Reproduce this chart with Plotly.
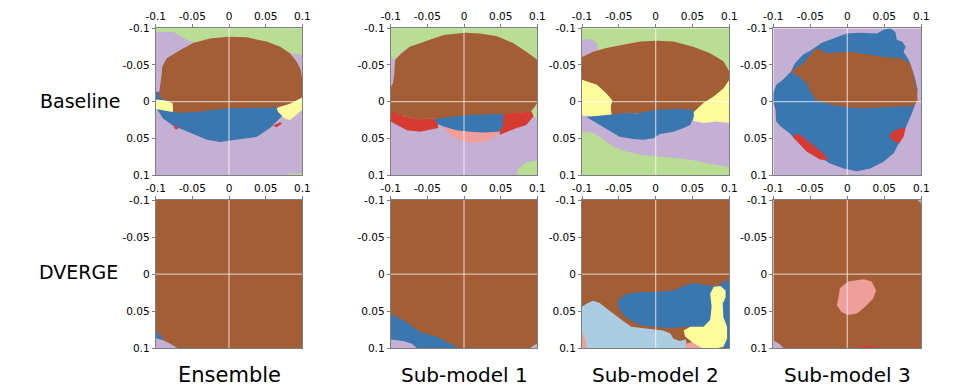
import plotly.graph_objects as go

# ---------------- data ----------------
TICKS = [-0.1, -0.05, 0, 0.05, 0.1]
TICK_TEXT = ['-0.1', '-0.05', '0', '0.05', '0.1']
ROW_LABELS = ['Baseline', 'DVERGE']
COL_LABELS = ['Ensemble', 'Sub-model 1', 'Sub-model 2', 'Sub-model 3']

FULL = [(-0.1, -0.1), (0.1, -0.1), (0.1, 0.1), (-0.1, 0.1)]

# Baseline / Ensemble
B_ENS_GREEN = [(-0.1, -0.1), (0.1, -0.1), (0.1, -0.064), (0.083, -0.066), (0.001, -0.075),
               (-0.053, -0.082), (-0.076, -0.095), (-0.1, -0.095)]
B_ENS_GREEN2 = [(0.079, 0.1), (0.083, 0.098), (0.1, 0.098), (0.1, 0.1)]
B_ENS_BLUE = [(-0.1, -0.0136), (0.065, -0.0136), (0.067, 0.011), (0.074, 0.018), (0.065, 0.027),
              (0.056, 0.036), (0.038, 0.048), (0.010, 0.052), (-0.012, 0.055), (-0.030, 0.052),
              (-0.053, 0.043), (-0.076, 0.033), (-0.090, 0.023), (-0.096, 0.014), (-0.1, 0.007)]
B_ENS_YEL1 = [(-0.1, -0.003), (-0.078, -0.001), (-0.075, 0.007), (-0.077, 0.014), (-0.094, 0.011),
              (-0.1, 0.010)]
B_ENS_YEL2 = [(0.065, 0.009), (0.083, 0.003), (0.1, -0.006), (0.1, 0.011), (0.092, 0.018),
              (0.083, 0.025), (0.076, 0.023), (0.067, 0.014)]
B_ENS_RED1 = [(-0.076, 0.034), (-0.069, 0.034), (-0.070, 0.038), (-0.074, 0.037)]
B_ENS_RED2 = [(0.060, 0.033), (0.070, 0.028), (0.072, 0.030), (0.065, 0.035)]
B_ENS_BROWN = [(-0.001, -0.0886), (0.024, -0.0877), (0.051, -0.082), (0.070, -0.075), (0.083, -0.066),
               (0.092, -0.055), (0.098, -0.043), (0.1, -0.030), (0.1, -0.006), (0.083, 0.003),
               (0.065, 0.008), (0.038, 0.008), (0.001, 0.009), (-0.021, 0.011), (-0.044, 0.014),
               (-0.067, 0.015), (-0.076, 0.014), (-0.077, 0.002), (-0.087, -0.002), (-0.096, -0.007),
               (-0.094, -0.020), (-0.092, -0.036), (-0.091, -0.048), (-0.085, -0.059), (-0.067, -0.070),
               (-0.049, -0.080), (-0.026, -0.086)]

# Baseline / Sub-model 1
B_S1_GREEN = [(-0.1, -0.1), (0.1, -0.1), (0.1, -0.0545), (0.09, -0.061), (0.008, -0.075),
              (-0.074, -0.075), (-0.087, -0.066), (-0.094, -0.057), (-0.1, -0.062)]
B_S1_GREEN2 = [(0.095, 0.009), (0.1, 0.002), (0.1, 0.024), (0.095, 0.020), (0.092, 0.015)]
B_S1_GREEN3 = [(0.072, 0.1), (0.074, 0.091), (0.085, 0.083), (0.1, 0.080), (0.1, 0.1)]
B_S1_BROWN = [(0.001, -0.094), (0.022, -0.093), (0.045, -0.089), (0.067, -0.080), (0.085, -0.068),
              (0.1, -0.057), (0.1, 0.002), (0.095, 0.009), (0.090, 0.014), (0.072, 0.015),
              (0.054, 0.017), (0.008, 0.018), (-0.037, 0.023), (-0.060, 0.024), (-0.083, 0.020),
              (-0.1, 0.012), (-0.1, -0.020), (-0.097, -0.025), (-0.095, -0.039), (-0.094, -0.057),
              (-0.085, -0.066), (-0.074, -0.075), (-0.055, -0.082), (-0.028, -0.091)]
B_S1_RED1 = [(-0.1, 0.011), (-0.083, 0.020), (-0.060, 0.024), (-0.037, 0.023), (-0.035, 0.036),
             (-0.060, 0.041), (-0.078, 0.039), (-0.092, 0.032), (-0.1, 0.027)]
B_S1_RED2 = [(0.051, 0.016), (0.072, 0.015), (0.092, 0.013), (0.095, 0.020), (0.085, 0.032),
             (0.072, 0.036), (0.049, 0.045), (0.047, 0.034)]
B_S1_PINK = [(-0.028, 0.034), (0.049, 0.041), (0.040, 0.050), (0.026, 0.055), (0.008, 0.056),
             (-0.010, 0.051), (-0.024, 0.041)]
B_S1_BLUE = [(-0.040, 0.023), (-0.024, 0.014), (-0.005, 0.007), (0.008, 0.006), (0.026, 0.008),
             (0.047, 0.011), (0.054, 0.018), (0.053, 0.034), (0.047, 0.041), (0.026, 0.042),
             (0.008, 0.041), (-0.010, 0.039), (-0.028, 0.034), (-0.037, 0.030)]

# Baseline / Sub-model 2
B_S2_LAV1 = [(-0.1, -0.085), (-0.087, -0.085), (-0.080, -0.080), (-0.078, -0.070), (-0.1, -0.061)]
B_S2_LAV2 = [(-0.1, 0.018), (0.1, 0.018), (0.1, 0.089), (0.074, 0.085), (0.051, 0.080), (0.029, 0.077),
             (0.006, 0.075), (-0.017, 0.073), (-0.040, 0.068), (-0.058, 0.061), (-0.071, 0.052),
             (-0.080, 0.045), (-0.087, 0.042), (-0.1, 0.041)]
B_S2_BROWN = [(0.001, -0.083), (0.024, -0.082), (0.051, -0.075), (0.074, -0.066), (0.092, -0.055),
              (0.1, -0.041), (0.1, -0.027), (0.092, -0.018), (0.079, -0.007), (0.065, 0.002),
              (0.052, 0.014), (0.029, 0.010), (0.001, 0.013), (-0.026, 0.016), (-0.035, 0.015),
              (-0.049, 0.018), (-0.060, 0.019), (-0.061, 0.007), (-0.059, -0.002), (-0.067, -0.011),
              (-0.080, -0.023), (-0.1, -0.029), (-0.1, -0.061), (-0.085, -0.068), (-0.067, -0.073),
              (-0.044, -0.077), (-0.021, -0.082)]
B_S2_YEL1 = [(-0.1, -0.030), (-0.080, -0.023), (-0.067, -0.011), (-0.059, -0.002), (-0.061, 0.007),
             (-0.060, 0.019), (-0.085, 0.020), (-0.1, 0.019)]
B_S2_YEL2 = [(0.1, -0.030), (0.1, 0.029), (0.083, 0.027), (0.065, 0.029), (0.051, 0.026),
             (0.052, 0.014), (0.065, 0.002), (0.079, -0.007), (0.092, -0.018)]
B_S2_BLUE = [(-0.094, 0.021), (-0.062, 0.018), (-0.035, 0.015), (-0.026, 0.016), (0.001, 0.011),
             (0.029, 0.010), (0.051, 0.011), (0.052, 0.020), (0.047, 0.032), (0.038, 0.036),
             (0.024, 0.041), (0.006, 0.044), (-0.003, 0.050), (-0.017, 0.052), (-0.030, 0.051),
             (-0.049, 0.048), (-0.062, 0.040), (-0.080, 0.029)]

# Baseline / Sub-model 3
B_S3_BLUE = [(-0.1, -0.011), (-0.096, -0.023), (-0.087, -0.030), (-0.076, -0.041), (-0.071, -0.052),
             (-0.060, -0.064), (-0.049, -0.070), (-0.035, -0.080), (-0.019, -0.086), (-0.001, -0.093),
             (0.017, -0.094), (0.040, -0.093), (0.049, -0.098), (0.058, -0.1), (0.065, -0.095),
             (0.067, -0.084), (0.074, -0.082), (0.079, -0.075), (0.076, -0.068), (0.083, -0.057),
             (0.088, -0.043), (0.092, -0.030), (0.095, -0.016), (0.093, 0.0), (0.088, 0.014),
             (0.081, 0.030), (0.072, 0.052), (0.063, 0.070), (0.049, 0.082), (0.031, 0.091),
             (0.013, 0.095), (-0.005, 0.091), (-0.024, 0.084), (-0.046, 0.070), (-0.065, 0.057),
             (-0.078, 0.043), (-0.090, 0.034), (-0.096, 0.027), (-0.097, 0.011), (-0.1, 0.0)]
B_S3_BROWN = [(-0.076, -0.041), (-0.060, -0.052), (-0.042, -0.073), (-0.028, -0.066), (0.004, -0.068),
              (0.026, -0.065), (0.049, -0.061), (0.072, -0.059), (0.085, -0.052), (0.090, -0.034),
              (0.094, -0.016), (0.095, -0.002), (0.090, 0.006), (0.063, 0.007), (0.022, 0.009),
              (0.004, 0.008), (-0.019, 0.005), (-0.042, -0.002), (-0.051, -0.016), (-0.055, -0.025),
              (-0.065, -0.034)]
B_S3_RED1 = [(-0.074, 0.048), (-0.067, 0.043), (-0.058, 0.050), (-0.046, 0.059), (-0.033, 0.070),
             (-0.026, 0.080), (-0.037, 0.079), (-0.055, 0.068), (-0.064, 0.059)]
B_S3_RED2 = [(0.058, 0.043), (0.067, 0.038), (0.079, 0.035), (0.076, 0.048), (0.070, 0.057),
             (0.065, 0.055), (0.058, 0.050)]

# DVERGE / Ensemble
D_ENS_BLUE = [(-0.1, 0.0766), (-0.094, 0.082), (-0.089, 0.089), (-0.1, 0.089)]
D_ENS_LAV = [(-0.1, 0.086), (-0.090, 0.089), (-0.080, 0.094), (-0.070, 0.1), (-0.1, 0.1)]

# DVERGE / Sub-model 1
D_S1_BLUE = [(-0.1, 0.052), (-0.092, 0.058), (-0.083, 0.062), (-0.074, 0.068), (-0.060, 0.078),
             (-0.046, 0.082), (-0.035, 0.085), (-0.019, 0.094), (-0.006, 0.1), (-0.1, 0.1)]
D_S1_LAV1 = [(-0.1, 0.088), (-0.083, 0.090), (-0.071, 0.094), (-0.064, 0.1), (-0.1, 0.1)]
D_S1_LAV2 = [(0.090, 0.1), (0.095, 0.096), (0.1, 0.094), (0.1, 0.1)]

# DVERGE / Sub-model 2
D_S2_LBLUE = [(-0.1, 0.044), (-0.094, 0.040), (-0.085, 0.036), (-0.076, 0.039), (-0.067, 0.046),
              (-0.058, 0.053), (-0.046, 0.062), (-0.033, 0.071), (-0.012, 0.073), (0.010, 0.076),
              (0.020, 0.080), (0.024, 0.087), (0.033, 0.090), (0.041, 0.088), (0.043, 0.1), (-0.1, 0.1)]
D_S2_PINK1 = [(-0.1, 0.078), (-0.096, 0.087), (-0.093, 0.1), (-0.1, 0.1)]
D_S2_PINK2 = [(0.041, 0.094), (0.051, 0.091), (0.063, 0.1), (0.040, 0.1)]
D_S2_BLUE = [(-0.049, 0.033), (-0.040, 0.027), (-0.021, 0.024), (0.001, 0.024), (0.024, 0.022),
             (0.038, 0.016), (0.051, 0.012), (0.070, 0.015), (0.083, 0.016), (0.1, 0.007),
             (0.1, 0.1), (0.093, 0.1), (0.083, 0.076), (0.065, 0.071), (0.042, 0.071), (0.020, 0.073),
             (-0.003, 0.071), (-0.021, 0.069), (-0.035, 0.062), (-0.044, 0.055), (-0.050, 0.046),
             (-0.052, 0.040)]
D_S2_YEL = [(0.038, 0.076), (0.047, 0.071), (0.065, 0.071), (0.074, 0.062), (0.076, 0.044),
            (0.074, 0.026), (0.079, 0.017), (0.088, 0.016), (0.095, 0.022), (0.095, 0.031),
            (0.091, 0.040), (0.092, 0.058), (0.097, 0.071), (0.097, 0.087), (0.092, 0.098),
            (0.083, 0.1), (0.063, 0.1), (0.051, 0.093), (0.045, 0.088), (0.040, 0.084)]

# DVERGE / Sub-model 3
D_S3_PINK = [(-0.012, 0.031), (-0.010, 0.019), (0.001, 0.010), (0.022, 0.007), (0.033, 0.010),
             (0.039, 0.022), (0.035, 0.033), (0.024, 0.044), (0.013, 0.053), (0.001, 0.055),
             (-0.008, 0.051), (-0.014, 0.042)]
D_S3_RED = [(0.013, 0.1), (0.022, 0.097), (0.035, 0.098), (0.044, 0.1)]
D_S3_LAV1 = [(-0.1, 0.089), (-0.092, 0.094), (-0.086, 0.1), (-0.1, 0.1)]
D_S3_LAV2 = [(0.095, -0.1), (0.1, -0.1), (0.1, -0.095)]

# ---------------- style ----------------
BROWN = '#a45e35'
BLUE = '#3a76b0'
LAV = '#c4b0d4'
GREEN = '#b9dd95'
YELLOW = '#fdfc9d'
RED = '#d63a30'
PINK = '#f09e9c'
LBLUE = '#aacde1'

PANELS = [
    [(FULL, LAV), (B_ENS_GREEN, GREEN), (B_ENS_GREEN2, GREEN), (B_ENS_BLUE, BLUE),
     (B_ENS_RED1, RED), (B_ENS_RED2, RED), (B_ENS_YEL1, YELLOW), (B_ENS_YEL2, YELLOW),
     (B_ENS_BROWN, BROWN)],
    [(FULL, LAV), (B_S1_GREEN, GREEN), (B_S1_GREEN2, GREEN), (B_S1_GREEN3, GREEN),
     (B_S1_RED1, RED), (B_S1_RED2, RED), (B_S1_PINK, PINK), (B_S1_BLUE, BLUE), (B_S1_BROWN, BROWN)],
    [(FULL, GREEN), (B_S2_LAV1, LAV), (B_S2_LAV2, LAV), (B_S2_BROWN, BROWN), (B_S2_YEL1, YELLOW),
     (B_S2_YEL2, YELLOW), (B_S2_BLUE, BLUE)],
    [(FULL, LAV), (B_S3_BLUE, BLUE), (B_S3_BROWN, BROWN), (B_S3_RED1, RED), (B_S3_RED2, RED)],
    [(FULL, BROWN), (D_ENS_BLUE, BLUE), (D_ENS_LAV, LAV)],
    [(FULL, BROWN), (D_S1_BLUE, BLUE), (D_S1_LAV1, LAV), (D_S1_LAV2, LAV)],
    [(FULL, BROWN), (D_S2_LBLUE, LBLUE), (D_S2_PINK1, PINK), (D_S2_PINK2, PINK), (D_S2_BLUE, BLUE),
     (D_S2_YEL, YELLOW)],
    [(FULL, BROWN), (D_S3_PINK, PINK), (D_S3_RED, RED), (D_S3_LAV1, LAV), (D_S3_LAV2, LAV)],
]

W, H = 968, 391
COL_PX = [(155.7, 302.3), (390.7, 537.3), (582.0, 729.3), (773.3, 921.3)]
ROW_PX = [(28.3, 175.0), (200.0, 348.3)]
FONT = 'DejaVu Sans'
FRAME = '#7f7f7f'

fig = go.Figure()
layout = dict(width=W, height=H, margin=dict(l=0, r=0, t=0, b=0, pad=0, autoexpand=False),
              template='none', paper_bgcolor='white', plot_bgcolor='white', showlegend=False)
shapes = []

for k, layers in enumerate(PANELS):
    r, c = divmod(k, 4)
    n = k + 1
    xs = 'x' if n == 1 else f'x{n}'
    ys = 'y' if n == 1 else f'y{n}'
    for poly, color in layers:
        px = [p[0] for p in poly] + [poly[0][0]]
        py = [p[1] for p in poly] + [poly[0][1]]
        fig.add_trace(go.Scatter(x=px, y=py, xaxis=xs, yaxis=ys, mode='lines',
                                 line=dict(width=0, color=color), fill='toself',
                                 fillcolor=color, hoverinfo='skip'))
    x0, x1 = COL_PX[c]
    y0, y1 = ROW_PX[r]
    axcommon = dict(tickvals=TICKS, ticktext=TICK_TEXT, ticks='outside', ticklen=3,
                    tickcolor=FRAME, showgrid=False, zeroline=False, showline=True,
                    mirror=True, linecolor=FRAME, linewidth=1, automargin=False,
                    tickfont=dict(family=FONT, size=10.5, color='black'))
    layout['xaxis' if n == 1 else f'xaxis{n}'] = dict(
        domain=[x0 / W, x1 / W], anchor=ys, side='top', range=[-0.1, 0.1], **axcommon)
    layout['yaxis' if n == 1 else f'yaxis{n}'] = dict(
        domain=[1 - y1 / H, 1 - y0 / H], anchor=xs, range=[0.1, -0.1], **axcommon)
    # zero lines (drawn over the regions)
    shapes.append(dict(type='line', xref=xs, yref=ys, x0=0, x1=0, y0=-0.1, y1=0.1,
                       line=dict(color='rgba(255,255,255,0.6)', width=1.3), layer='above'))
    shapes.append(dict(type='line', xref=xs, yref=ys, x0=-0.1, x1=0.1, y0=0, y1=0,
                       line=dict(color='rgba(255,255,255,0.6)', width=1.3), layer='above'))

annotations = []
ROW_LABEL_POS = [(80, 101), (78, 272)]
for lab, (ax, ay) in zip(ROW_LABELS, ROW_LABEL_POS):
    annotations.append(dict(text=lab, x=ax / W, y=1 - ay / H, xref='paper', yref='paper',
                            showarrow=False, xanchor='center', yanchor='middle',
                            font=dict(family=FONT, size=19, color='black')))
for c, lab in enumerate(COL_LABELS):
    cx = (COL_PX[c][0] + COL_PX[c][1]) / 2
    annotations.append(dict(text=lab, x=cx / W, y=1 - 375 / H, xref='paper', yref='paper',
                            showarrow=False, xanchor='center', yanchor='middle',
                            font=dict(family=FONT, size=21 if c == 0 else 20, color='black')))

layout['shapes'] = shapes
layout['annotations'] = annotations
fig.update_layout(**layout)
fig.write_html('out.html', config={'displayModeBar': False},
               post_script="document.body.style.margin='0';document.body.style.overflow='hidden';")
